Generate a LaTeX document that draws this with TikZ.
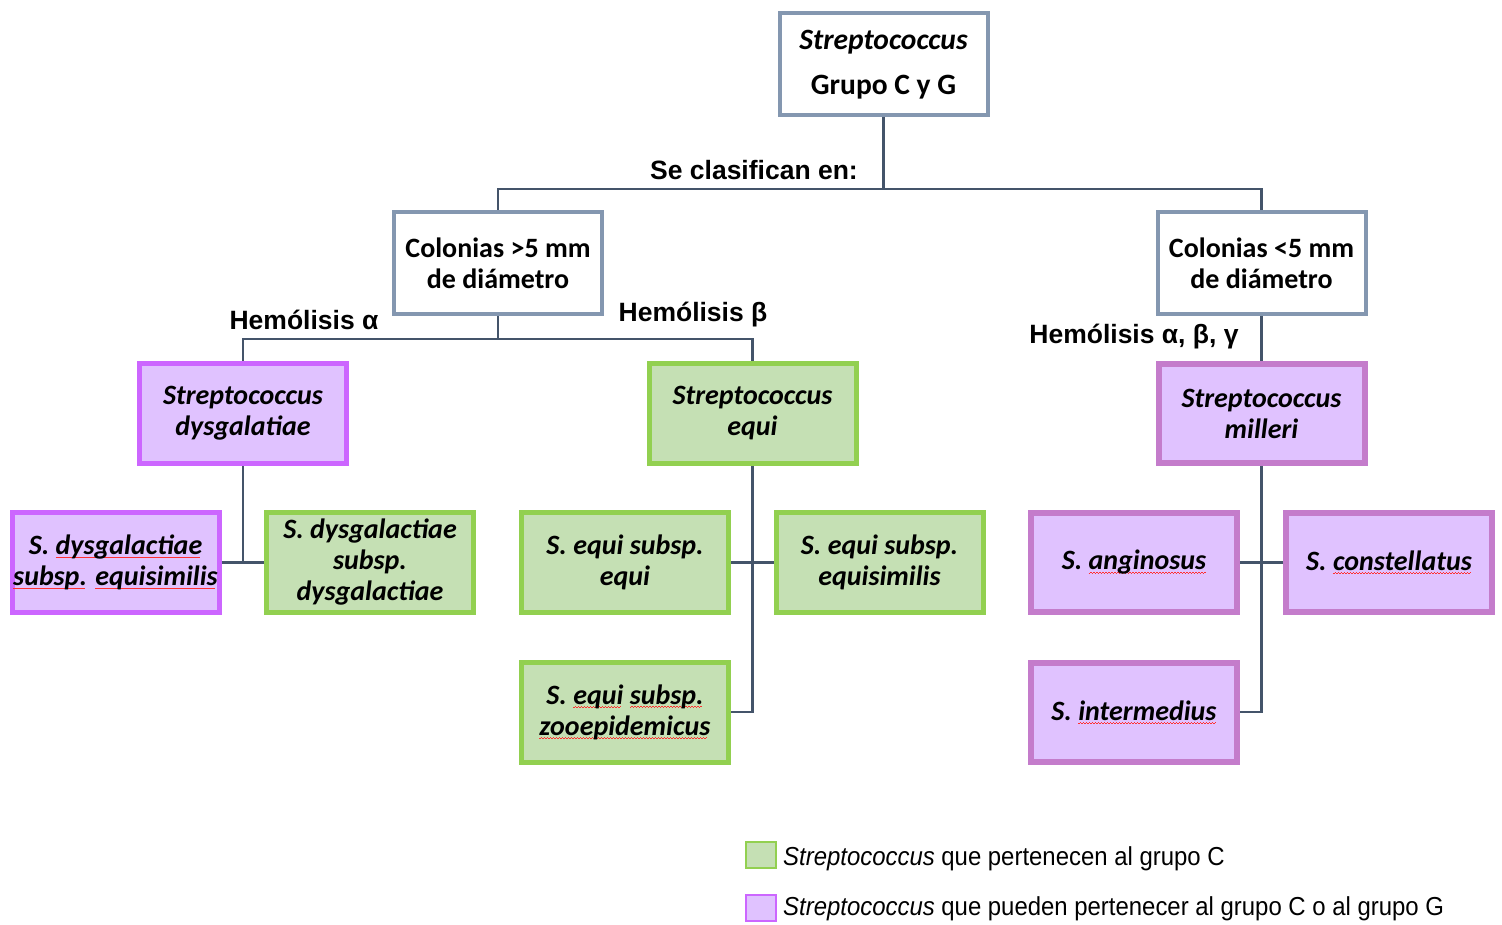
\documentclass[tikz,border=0pt]{standalone}
\usepackage{fontspec}
\setmainfont{Carlito}
\newfontfamily\arialf{Liberation Sans}
\newfontfamily\legf[FakeStretch=0.92]{Liberation Sans}
\definecolor{grayb}{HTML}{8497B0}
\definecolor{conn}{HTML}{44546A}
\definecolor{gfill}{HTML}{C5E0B4}
\definecolor{gbord}{HTML}{92D050}
\definecolor{pfill}{HTML}{E0C2FF}
\definecolor{pbord}{HTML}{CC66FF}
\definecolor{mbord}{HTML}{C47CCB}
\definecolor{spellred}{HTML}{FF3030}
\newcommand\spw[1]{\setbox0\hbox{#1}\rlap{\lower3.5pt\hbox to \wd0{\color{spellred}\leaders\hbox{\rule{1.5pt}{0.7pt}\rule[0.9pt]{1.5pt}{0.7pt}}\hfill}}#1}
\begin{document}
\begin{tikzpicture}[x=1pt,y=-1pt,
  box/.style={rectangle, minimum width=207pt, minimum height=100pt, line width=5pt,
    align=center, inner sep=0pt, font=\fontsize{28}{31}\selectfont\bfseries},
  graybox/.style={box, draw=grayb, fill=white, line width=4pt, minimum width=208pt, minimum height=102pt},
  greenbox/.style={box, draw=gbord, fill=gfill},
  purplebox/.style={box, draw=pbord, fill=pfill},
  mbox/.style={box, draw=mbord, fill=pfill, line width=6pt, minimum width=206pt, minimum height=99pt},
  lab/.style={font=\arialf\fontsize{26.5}{30}\selectfont\bfseries, inner sep=0pt},
  legtext/.style={font=\legf\fontsize{26}{30}\selectfont, anchor=west, inner sep=0pt},
  legsq/.style={rectangle, line width=2pt, minimum width=30pt, minimum height=26pt, inner sep=0pt},
  cn/.style={draw=conn, line width=2.5pt}]
\useasboundingbox (0,0) rectangle (1502,925);

% level 0
\node[graybox, font=\fontsize{29.5}{31}\selectfont\bfseries] (top) at (883.5,64.5) {\textit{Streptococcus}\\[14pt]Grupo C y G};
% level 1
\node[graybox] (L1) at (498,263.5) {Colonias >5 mm\\de diámetro};
\node[graybox] (R1) at (1261.5,263.5) {Colonias <5 mm\\de diámetro};
% level 2
\node[purplebox] (dys) at (243,413.5) {\textit{Streptococcus}\\\textit{dysgalatiae}};
\node[greenbox] (equi) at (752.5,413.5) {\textit{Streptococcus}\\\textit{equi}};
\node[mbox] (mil) at (1261.5,413.5) {\textit{Streptococcus}\\\textit{milleri}};
% level 3
\node[purplebox] (dse) at (115.5,562.5) {\textit{S. \spw{dysgalactiae}}\\\textit{\spw{subsp.} \spw{equisimilis}}};
\node[greenbox] (dsd) at (370,562.5) {\textit{S. dysgalactiae}\\\textit{subsp.}\\\textit{dysgalactiae}};
\node[greenbox] (eqe) at (625,562.5) {\textit{S. equi subsp.}\\\textit{equi}};
\node[greenbox] (eqs) at (879.5,562.5) {\textit{S. equi subsp.}\\\textit{equisimilis}};
\node[greenbox] (zoo) at (625,712) {\textit{S. \spw{equi} \spw{subsp.}}\\\textit{\spw{zooepidemicus}}};
\node[mbox] (ang) at (1134,562.5) {\textit{S. \spw{anginosus}}};
\node[mbox] (con) at (1389,562.5) {\textit{S. \spw{constellatus}}};
\node[mbox] (int) at (1134,712) {\textit{S. \spw{intermedius}}};

% connectors
\coordinate (b0) at (883.5,189);
\coordinate (b1) at (498,339);
\draw[cn] (top.south) -- (b0) -| (L1.north);
\draw[cn] (b0) -| (R1.north);
\draw[cn] (L1.south) -- (b1) -| (dys.north);
\draw[cn] (b1) -| (equi.north);
\draw[cn] (R1.south) -- (mil.north);
\draw[cn] (dse.east) -| (dys.south);
\draw[cn] (dsd.west) -| (dys.south);
\draw[cn] (eqe.east) -| (equi.south);
\draw[cn] (eqs.west) -| (equi.south);
\draw[cn] (zoo.east) -| (equi.south);
\draw[cn] (ang.east) -| (mil.south);
\draw[cn] (con.west) -| (mil.south);
\draw[cn] (int.east) -| (mil.south);

% labels
\node[lab] (l0) at (754,170) {Se clasifican en:};
\node[lab] (l1) at (304,320) {Hemólisis α};
\node[lab] (l2) at (693,315) {Hemólisis β};
\node[lab] (l3) at (1134,337) {Hemólisis α, β, γ};

% legend
\node[legsq, draw=gbord, fill=gfill] (lg1) at (761,855) {};
\node[legsq, draw=pbord, fill=pfill] (lg2) at (761,908) {};
\node[legtext] (lt1) at (783,859) {\textit{Streptococcus} que pertenecen al grupo C};
\node[legtext] (lt2) at (783,909) {\textit{Streptococcus} que pueden pertenecer al grupo C o al grupo G};
\end{tikzpicture}
\end{document}
